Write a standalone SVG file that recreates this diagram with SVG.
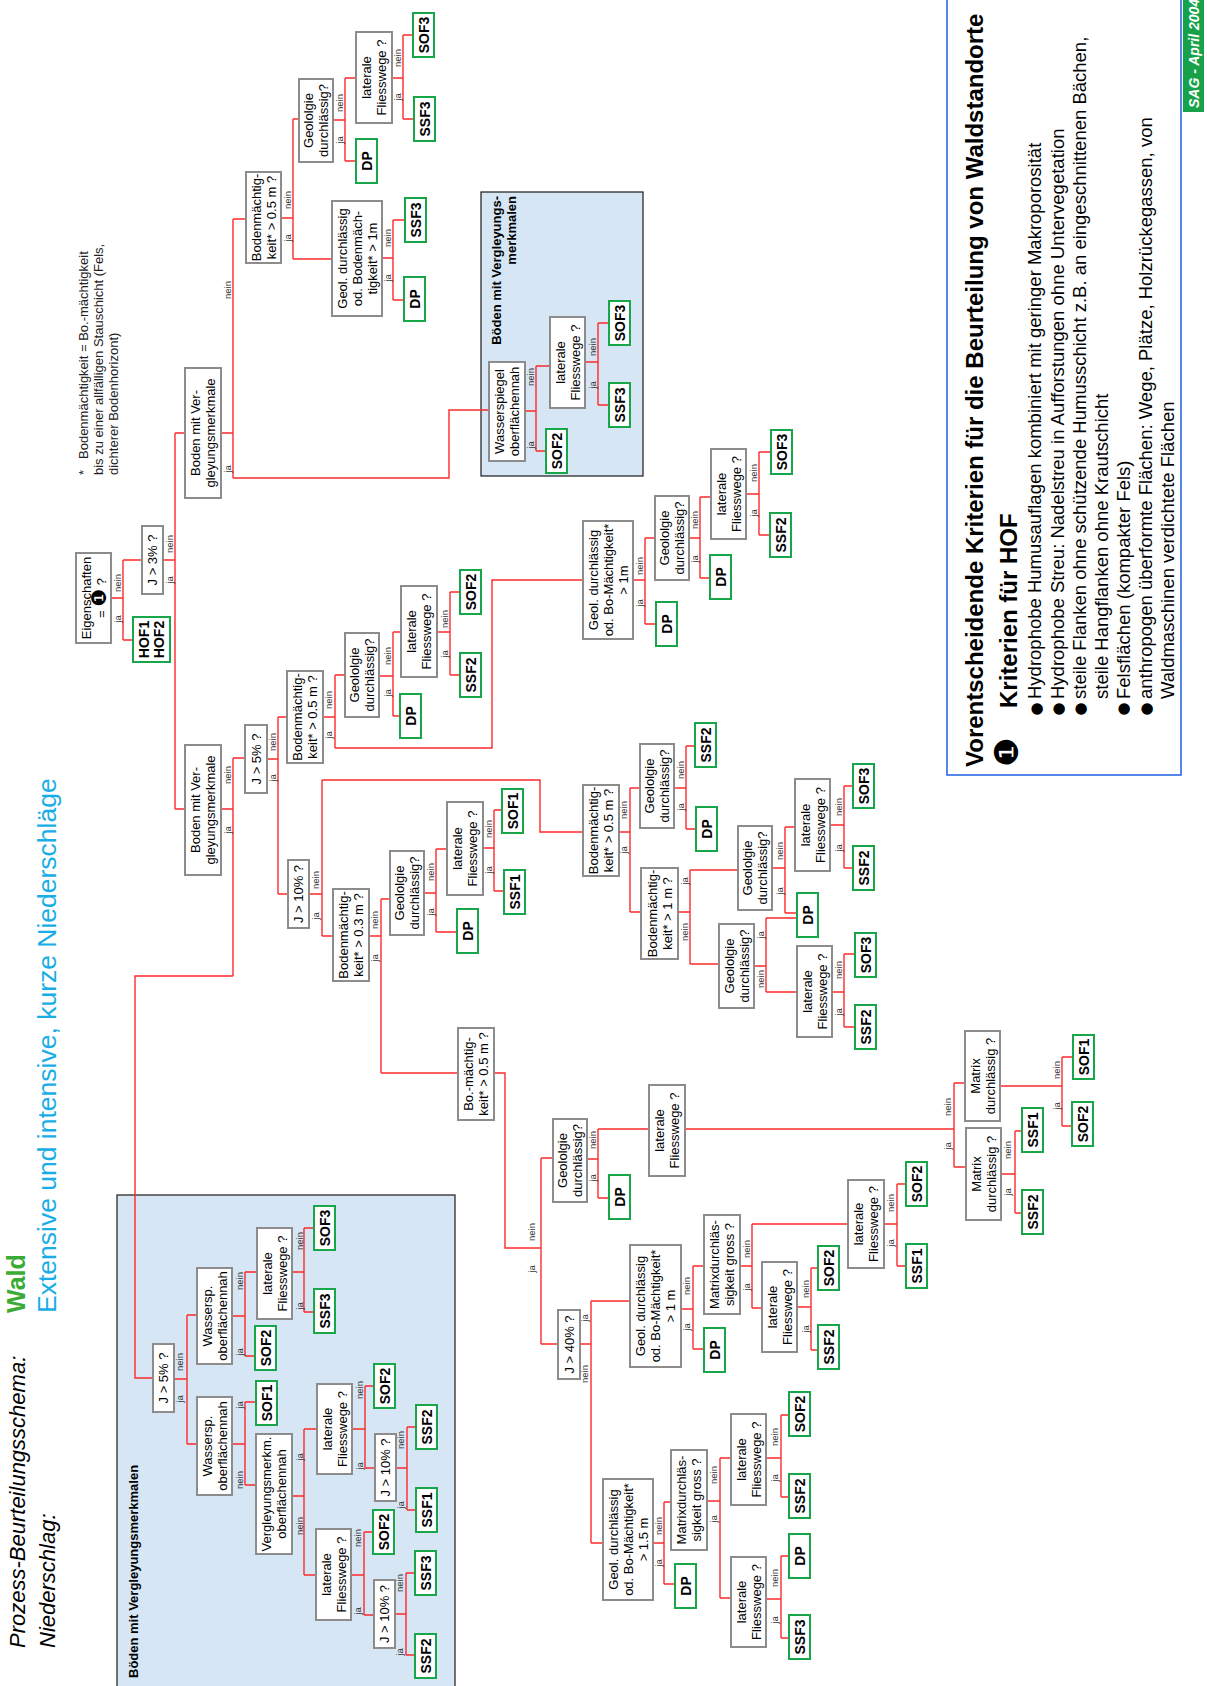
<svg xmlns="http://www.w3.org/2000/svg" width="1207" height="1686" viewBox="0 0 1207 1686">
<style>
.q rect{fill:#fff;stroke:#8c8c8c;stroke-width:2}
.q text{font-family:"Liberation Sans",Arial,"DejaVu Sans",sans-serif;font-size:13px;text-anchor:middle;fill:#000}
.r rect{fill:#fff;stroke:#18a64a;stroke-width:2}
.r text{font-family:"Liberation Sans",Arial,sans-serif;font-size:14px;font-weight:bold;text-anchor:middle;fill:#000}
.c{fill:none;stroke:#ff2a2a;stroke-width:1.4}
.yn text{font-family:"Liberation Sans",Arial,sans-serif;font-size:9.5px;text-anchor:middle;fill:#333}
.blue{fill:#d6e6f4;stroke:#1a1a1a;stroke-width:1.2}
.f{font-family:"Liberation Sans",Arial,"DejaVu Sans",sans-serif}
</style>

<!-- Headers -->
<g id="header">
<text class="f" transform="translate(25,1648) rotate(-90)" font-size="22" font-style="italic">Prozess-Beurteilungsschema:</text>
<text class="f" transform="translate(55,1648) rotate(-90)" font-size="22" font-style="italic">Niederschlag:</text>
<text class="f" transform="translate(25,1313) rotate(-90)" font-size="25" font-weight="bold" fill="#3aab34">Wald</text>
<text class="f" transform="translate(56,1313) rotate(-90)" font-size="26.5" fill="#18ade6">Extensive und intensive, kurze Niederschläge</text>
</g>

<g id="footnote" class="f" font-size="13" fill="#222">
<text transform="translate(88,475) rotate(-90)">*</text>
<text transform="translate(88,459) rotate(-90)">Bodenmächtigkeit = Bo.-mächtigkeit</text>
<text transform="translate(103,475) rotate(-90)">bis zu einer allfälligen Stauschicht (Fels,</text>
<text transform="translate(118,475) rotate(-90)">dichterer Bodenhorizont)</text>
</g>

<!-- Right info box -->
<g id="kriterien">
<rect x="947" y="-2" width="234" height="777" fill="#fff" stroke="#1f5fe0" stroke-width="1.5"/>
<text class="f" transform="translate(983,767) rotate(-90)" font-size="24" font-weight="bold">Vorentscheidende Kriterien für die Beurteilung von Waldstandorte</text>
<text transform="translate(1006,752) rotate(-90)" font-family="DejaVu Sans,sans-serif" font-size="33" text-anchor="middle" y="11.8">❶</text>
<text class="f" transform="translate(1017,708) rotate(-90)" font-size="24" font-weight="bold">Kriterien für HOF</text>
<g font-family="DejaVu Sans,sans-serif" font-size="15" text-anchor="middle">
<text transform="translate(1036,709) rotate(-90)" y="5">●</text>
<text transform="translate(1058,709) rotate(-90)" y="5">●</text>
<text transform="translate(1080,709) rotate(-90)" y="5">●</text>
<text transform="translate(1123,709) rotate(-90)" y="5">●</text>
<text transform="translate(1146,709) rotate(-90)" y="5">●</text>
</g>
<g class="f" font-size="18.5">
<text transform="translate(1041,699) rotate(-90)">Hydrophobe Humusauflagen kombiniert mit geringer Makroporosität</text>
<text transform="translate(1064,699) rotate(-90)">Hydrophobe Streu: Nadelstreu in Aufforstungen ohne Untervegetation</text>
<text transform="translate(1086,699) rotate(-90)">steile Flanken ohne schützende Humusschicht z.B. an eingeschnittenen Bächen,</text>
<text transform="translate(1108,699) rotate(-90)">steile Hangflanken ohne Krautschicht</text>
<text transform="translate(1130,699) rotate(-90)">Felsflächen (kompakter Fels)</text>
<text transform="translate(1152,699) rotate(-90)">anthropogen überformte Flächen: Wege, Plätze, Holzrückegassen, von</text>
<text transform="translate(1174,699) rotate(-90)">Waldmaschinen verdichtete Flächen</text>
</g>
</g>

<g id="sag">
<rect x="1183" y="-2" width="21" height="114" fill="#17a24a"/>
<text class="f" transform="translate(1199,108) rotate(-90)" font-size="14" font-weight="bold" font-style="italic" fill="#fff">SAG - April 2004</text>
</g>

<!-- Blue group boxes -->
<g id="blueUpper">
<rect class="blue" x="481" y="192" width="162" height="284"/>
<text class="f" transform="translate(501,196) rotate(-90)" font-size="13" font-weight="bold" text-anchor="end">Böden mit Vergleyungs-</text>
<text class="f" transform="translate(516,196) rotate(-90)" font-size="13" font-weight="bold" text-anchor="end">merkmalen</text>
</g>
<g id="blueLower">
<rect class="blue" x="117" y="1195" width="338" height="500"/>
<text class="f" transform="translate(138,1678) rotate(-90)" font-size="13" font-weight="bold">Böden mit Vergleyungsmerkmalen</text>
</g>

<!-- Connectors -->
<g id="connectors">
<path class="c" d="M111 598H123M123 560V640M123 560H142M123 640H133"/>
<path class="c" d="M163 560H175M175 433V809M175 433H185M175 809H185"/>
<path class="c" d="M221 433H233M233 219V478M233 219H246M233 478H449V410H489"/>
<path class="c" d="M281 218H293M293 119V259M293 119H299M293 259H332"/>
<path class="c" d="M333 120H345M345 78V161M345 78H356M345 161H356"/>
<path class="c" d="M392 78H403M403 35V119M403 35H413M403 119H414"/>
<path class="c" d="M382 258H393M393 220V300M393 220H405M393 300H404"/>
<path class="c" d="M525 411H536M536 366V451M536 366H550M536 451H546"/>
<path class="c" d="M585 362H598M598 323V405M598 323H609M598 405H609"/>
<path class="c" d="M221 809H233M233 758V976M233 758H245M233 976H135V1378H153"/>
<path class="c" d="M267 759H278M278 717V894M278 717H287M278 894H288"/>
<path class="c" d="M323 717H335M335 675V748M335 675H345M335 748H492V580H583"/>
<path class="c" d="M379 676H393M393 632V716M393 632H401M393 716H400"/>
<path class="c" d="M437 632H450M450 592V675M450 592H460M450 675H460"/>
<path class="c" d="M633 580H645M645 538V624M645 538H655M645 624H656"/>
<path class="c" d="M689 538H700M700 497V578M700 497H711M700 578H710"/>
<path class="c" d="M746 494H759M759 452V535M759 452H771M759 535H770"/>
<path class="c" d="M309 894H322M322 780V936M322 780H540V832H583M322 936H333"/>
<path class="c" d="M369 936H381M381 899V1073M381 899H390M381 1073H458"/>
<path class="c" d="M424 893H436M436 849V932M436 849H447M436 932H457"/>
<path class="c" d="M483 848H494M494 810V891M494 810H502M494 891H504"/>
<path class="c" d="M619 832H630M630 788V912M630 788H640M630 912H641"/>
<path class="c" d="M674 788H686M686 746V829M686 746H695M686 829H696"/>
<path class="c" d="M678 912H690M690 870V964M690 870H738M690 964H719"/>
<path class="c" d="M772 868H785M785 827V913M785 827H795M785 913H797"/>
<path class="c" d="M754 966H766M766 918V992M766 918H797M766 992H797"/>
<path class="c" d="M830 825H844M844 786V868M844 786H853M844 868H853"/>
<path class="c" d="M832 992H844M844 954V1027M844 954H855M844 1027H855"/>
<path class="c" d="M494 1073H505V1248H541M541 1158V1344M541 1158H553M541 1344H558"/>
<path class="c" d="M587 1159H598M598 1129V1198M598 1129H649M598 1198H609"/>
<path class="c" d="M685 1129H954M954 1083V1167M954 1083H965M954 1167H966"/>
<path class="c" d="M1000 1086H1062M1062 1057V1126M1062 1057H1073M1062 1126H1072"/>
<path class="c" d="M1001 1174H1015M1015 1131V1213M1015 1131H1022M1015 1213H1022"/>
<path class="c" d="M580 1344H591M591 1301V1543M591 1301H630M591 1543H603"/>
<path class="c" d="M681 1309H693M693 1266V1349M693 1266H704M693 1349H704"/>
<path class="c" d="M740 1266H752M752 1224V1308M752 1224H848M752 1308H762"/>
<path class="c" d="M884 1224H897M897 1184V1266M897 1184H906M897 1266H906"/>
<path class="c" d="M797 1307H811M811 1268V1350M811 1268H818M811 1350H818"/>
<path class="c" d="M653 1543H664M664 1502V1584M664 1502H671M664 1584H675"/>
<path class="c" d="M707 1501H720M720 1458V1598M720 1458H731M720 1598H731"/>
<path class="c" d="M766 1458H781M781 1415V1497M781 1415H789M781 1497H789"/>
<path class="c" d="M766 1599H781M781 1556V1638M781 1556H789M781 1638H789"/>
<path class="c" d="M174 1379H187M187 1315V1444M187 1315H197M187 1444H197"/>
<path class="c" d="M232 1316H245M245 1272V1356M245 1272H257M245 1356H255"/>
<path class="c" d="M292 1272H304M304 1228V1312M304 1228H314M304 1312H314"/>
<path class="c" d="M232 1444H245M245 1402V1485M245 1402H256M245 1485H256"/>
<path class="c" d="M292 1496H304M304 1429V1575M304 1429H317M304 1575H316"/>
<path class="c" d="M352 1429H365M365 1386V1468M365 1386H374M365 1468H375"/>
<path class="c" d="M351 1575H364M364 1532V1615M364 1532H373M364 1615H374"/>
<path class="c" d="M396 1468H407M407 1427V1510M407 1427H416M407 1510H416"/>
<path class="c" d="M395 1614H406M406 1573V1655M406 1573H415M406 1655H415"/>
<g class="yn">
<text transform="translate(228,290) rotate(-90)" y="3">nein</text><text transform="translate(228,469) rotate(-90)" y="3">ja</text>
<text transform="translate(288,200) rotate(-90)" y="3">nein</text><text transform="translate(288,238) rotate(-90)" y="3">ja</text>
<text transform="translate(340,103) rotate(-90)" y="3">nein</text><text transform="translate(340,140) rotate(-90)" y="3">ja</text>
<text transform="translate(398,58) rotate(-90)" y="3">nein</text><text transform="translate(398,97) rotate(-90)" y="3">ja</text>
<text transform="translate(388,238) rotate(-90)" y="3">nein</text><text transform="translate(388,278) rotate(-90)" y="3">ja</text>
<text transform="translate(531,377) rotate(-90)" y="3">nein</text><text transform="translate(531,445) rotate(-90)" y="3">ja</text>
<text transform="translate(593,347) rotate(-90)" y="3">nein</text><text transform="translate(593,385) rotate(-90)" y="3">ja</text>
<text transform="translate(118,583) rotate(-90)" y="3">nein</text><text transform="translate(118,619) rotate(-90)" y="3">ja</text>
<text transform="translate(170,544) rotate(-90)" y="3">nein</text><text transform="translate(170,580) rotate(-90)" y="3">ja</text>
<text transform="translate(228,775) rotate(-90)" y="3">nein</text><text transform="translate(228,830) rotate(-90)" y="3">ja</text>
<text transform="translate(273,742) rotate(-90)" y="3">nein</text><text transform="translate(273,778) rotate(-90)" y="3">ja</text>
<text transform="translate(329,700) rotate(-90)" y="3">nein</text><text transform="translate(329,735) rotate(-90)" y="3">ja</text>
<text transform="translate(388,656) rotate(-90)" y="3">nein</text><text transform="translate(388,693) rotate(-90)" y="3">ja</text>
<text transform="translate(445,619) rotate(-90)" y="3">nein</text><text transform="translate(445,654) rotate(-90)" y="3">ja</text>
<text transform="translate(640,566) rotate(-90)" y="3">nein</text><text transform="translate(640,603) rotate(-90)" y="3">ja</text>
<text transform="translate(695,520) rotate(-90)" y="3">nein</text><text transform="translate(695,559) rotate(-90)" y="3">ja</text>
<text transform="translate(754,473) rotate(-90)" y="3">nein</text><text transform="translate(754,513) rotate(-90)" y="3">ja</text>
<text transform="translate(316,880) rotate(-90)" y="3">nein</text><text transform="translate(316,916) rotate(-90)" y="3">ja</text>
<text transform="translate(375,920) rotate(-90)" y="3">nein</text><text transform="translate(375,958) rotate(-90)" y="3">ja</text>
<text transform="translate(431,872) rotate(-90)" y="3">nein</text><text transform="translate(431,912) rotate(-90)" y="3">ja</text>
<text transform="translate(489,829) rotate(-90)" y="3">nein</text><text transform="translate(489,870) rotate(-90)" y="3">ja</text>
<text transform="translate(624,810) rotate(-90)" y="3">nein</text><text transform="translate(624,850) rotate(-90)" y="3">ja</text>
<text transform="translate(681,770) rotate(-90)" y="3">nein</text><text transform="translate(681,807) rotate(-90)" y="3">ja</text>
<text transform="translate(685,881) rotate(-90)" y="3">ja</text><text transform="translate(685,932) rotate(-90)" y="3">nein</text>
<text transform="translate(780,851) rotate(-90)" y="3">nein</text><text transform="translate(780,891) rotate(-90)" y="3">ja</text>
<text transform="translate(761,935) rotate(-90)" y="3">ja</text><text transform="translate(761,979) rotate(-90)" y="3">nein</text>
<text transform="translate(839,807) rotate(-90)" y="3">nein</text><text transform="translate(839,848) rotate(-90)" y="3">ja</text>
<text transform="translate(839,970) rotate(-90)" y="3">nein</text><text transform="translate(839,1012) rotate(-90)" y="3">ja</text>
<text transform="translate(532,1232) rotate(-90)" y="3">nein</text><text transform="translate(532,1269) rotate(-90)" y="3">ja</text>
<text transform="translate(593,1140) rotate(-90)" y="3">nein</text><text transform="translate(593,1178) rotate(-90)" y="3">ja</text>
<text transform="translate(948,1107) rotate(-90)" y="3">nein</text><text transform="translate(948,1146) rotate(-90)" y="3">ja</text>
<text transform="translate(1057,1070) rotate(-90)" y="3">nein</text><text transform="translate(1057,1106) rotate(-90)" y="3">ja</text>
<text transform="translate(1008,1150) rotate(-90)" y="3">nein</text><text transform="translate(1008,1192) rotate(-90)" y="3">ja</text>
<text transform="translate(585,1318) rotate(-90)" y="3">ja</text><text transform="translate(585,1374) rotate(-90)" y="3">nein</text>
<text transform="translate(687,1286) rotate(-90)" y="3">nein</text><text transform="translate(687,1327) rotate(-90)" y="3">ja</text>
<text transform="translate(747,1249) rotate(-90)" y="3">nein</text><text transform="translate(747,1287) rotate(-90)" y="3">ja</text>
<text transform="translate(891,1203) rotate(-90)" y="3">nein</text><text transform="translate(891,1243) rotate(-90)" y="3">ja</text>
<text transform="translate(806,1289) rotate(-90)" y="3">nein</text><text transform="translate(806,1329) rotate(-90)" y="3">ja</text>
<text transform="translate(659,1526) rotate(-90)" y="3">nein</text><text transform="translate(659,1563) rotate(-90)" y="3">ja</text>
<text transform="translate(714,1475) rotate(-90)" y="3">nein</text><text transform="translate(714,1519) rotate(-90)" y="3">ja</text>
<text transform="translate(775,1437) rotate(-90)" y="3">nein</text><text transform="translate(775,1478) rotate(-90)" y="3">ja</text>
<text transform="translate(775,1578) rotate(-90)" y="3">nein</text><text transform="translate(775,1620) rotate(-90)" y="3">ja</text>
<text transform="translate(180,1362) rotate(-90)" y="3">nein</text><text transform="translate(180,1399) rotate(-90)" y="3">ja</text>
<text transform="translate(240,1281) rotate(-90)" y="3">nein</text><text transform="translate(240,1352) rotate(-90)" y="3">ja</text>
<text transform="translate(300,1241) rotate(-90)" y="3">nein</text><text transform="translate(300,1306) rotate(-90)" y="3">ja</text>
<text transform="translate(240,1405) rotate(-90)" y="3">ja</text><text transform="translate(240,1480) rotate(-90)" y="3">nein</text>
<text transform="translate(300,1457) rotate(-90)" y="3">ja</text><text transform="translate(300,1526) rotate(-90)" y="3">nein</text>
<text transform="translate(360,1390) rotate(-90)" y="3">nein</text><text transform="translate(360,1466) rotate(-90)" y="3">ja</text>
<text transform="translate(358,1538) rotate(-90)" y="3">nein</text><text transform="translate(358,1611) rotate(-90)" y="3">ja</text>
<text transform="translate(401,1440) rotate(-90)" y="3">nein</text><text transform="translate(401,1505) rotate(-90)" y="3">ja</text>
<text transform="translate(400,1583) rotate(-90)" y="3">nein</text><text transform="translate(400,1652) rotate(-90)" y="3">ja</text>
</g>
</g>

<!-- Question nodes -->
<g id="G1" class="q"><rect x="76" y="553" width="35" height="90"/><text transform="translate(93.5,598) rotate(-90)"><tspan x="0" y="-3">Eigenschaften</tspan><tspan x="0" y="12">= <tspan font-size="20">❶</tspan> ?</tspan></text></g>
<g id="G2" class="q"><rect x="142" y="526" width="21" height="68"/><text transform="translate(152.5,560) rotate(-90)"><tspan x="0" y="4.5">J &gt; 3% ?</tspan></text></g>
<g id="G3" class="q"><rect x="185" y="368" width="36" height="130"/><text transform="translate(203,433) rotate(-90)"><tspan x="0" y="-3">Boden mit Ver-</tspan><tspan x="0" y="12">gleyungsmerkmale</tspan></text></g>
<g id="G4" class="q"><rect x="185" y="745" width="36" height="130"/><text transform="translate(203,810) rotate(-90)"><tspan x="0" y="-3">Boden mit Ver-</tspan><tspan x="0" y="12">gleyungsmerkmale</tspan></text></g>
<g id="G5" class="q"><rect x="246" y="172" width="35" height="91"/><text transform="translate(263.5,217.5) rotate(-90)"><tspan x="0" y="-3">Bodenmächtig-</tspan><tspan x="0" y="12">keit* &gt; 0.5 m ?</tspan></text></g>
<g id="G6" class="q"><rect x="299" y="79" width="34" height="83"/><text transform="translate(316,120.5) rotate(-90)"><tspan x="0" y="-3">Geololgie</tspan><tspan x="0" y="12">durchlässig?</tspan></text></g>
<g id="G7" class="q"><rect x="356" y="32" width="36" height="91"/><text transform="translate(374,77.5) rotate(-90)"><tspan x="0" y="-3">laterale</tspan><tspan x="0" y="12">Fliesswege ?</tspan></text></g>
<g id="G8" class="q"><rect x="332" y="201" width="50" height="115"/><text transform="translate(357,258.5) rotate(-90)"><tspan x="0" y="-10.5">Geol. durchlässig</tspan><tspan x="0" y="4.5">od. Bodenmäch-</tspan><tspan x="0" y="19.5">tigkeit* &gt; 1m</tspan></text></g>
<g id="G9" class="q"><rect x="489" y="362" width="36" height="99"/><text transform="translate(507,411.5) rotate(-90)"><tspan x="0" y="-3">Wasserspiegel</tspan><tspan x="0" y="12">oberflächennah</tspan></text></g>
<g id="G10" class="q"><rect x="550" y="317" width="35" height="91"/><text transform="translate(567.5,362.5) rotate(-90)"><tspan x="0" y="-3">laterale</tspan><tspan x="0" y="12">Fliesswege ?</tspan></text></g>
<g id="G11" class="q"><rect x="245" y="725" width="22" height="68"/><text transform="translate(256,759) rotate(-90)"><tspan x="0" y="4.5">J &gt; 5% ?</tspan></text></g>
<g id="G12" class="q"><rect x="287" y="671" width="36" height="92"/><text transform="translate(305,717) rotate(-90)"><tspan x="0" y="-3">Bodenmächtig-</tspan><tspan x="0" y="12">keit* &gt; 0.5 m ?</tspan></text></g>
<g id="G13" class="q"><rect x="345" y="633" width="34" height="84"/><text transform="translate(362,675) rotate(-90)"><tspan x="0" y="-3">Geololgie</tspan><tspan x="0" y="12">durchlässig?</tspan></text></g>
<g id="G14" class="q"><rect x="401" y="586" width="36" height="91"/><text transform="translate(419,631.5) rotate(-90)"><tspan x="0" y="-3">laterale</tspan><tspan x="0" y="12">Fliesswege ?</tspan></text></g>
<g id="G15" class="q"><rect x="583" y="521" width="50" height="118"/><text transform="translate(608,580) rotate(-90)"><tspan x="0" y="-10.5">Geol. durchlässig</tspan><tspan x="0" y="4.5">od. Bo-Mächtigkeit*</tspan><tspan x="0" y="19.5">&gt; 1m</tspan></text></g>
<g id="G16" class="q"><rect x="655" y="496" width="34" height="84"/><text transform="translate(672,538) rotate(-90)"><tspan x="0" y="-3">Geololgie</tspan><tspan x="0" y="12">durchlässig?</tspan></text></g>
<g id="G17" class="q"><rect x="711" y="449" width="35" height="90"/><text transform="translate(728.5,494) rotate(-90)"><tspan x="0" y="-3">laterale</tspan><tspan x="0" y="12">Fliesswege ?</tspan></text></g>
<g id="G18" class="q"><rect x="288" y="860" width="21" height="68"/><text transform="translate(298.5,894) rotate(-90)"><tspan x="0" y="4.5">J &gt; 10% ?</tspan></text></g>
<g id="G19" class="q"><rect x="333" y="889" width="36" height="92"/><text transform="translate(351,935) rotate(-90)"><tspan x="0" y="-3">Bodenmächtig-</tspan><tspan x="0" y="12">keit* &gt; 0.3 m ?</tspan></text></g>
<g id="G20" class="q"><rect x="390" y="851" width="34" height="84"/><text transform="translate(407,893) rotate(-90)"><tspan x="0" y="-3">Geololgie</tspan><tspan x="0" y="12">durchlässig?</tspan></text></g>
<g id="G21" class="q"><rect x="447" y="802" width="36" height="93"/><text transform="translate(465,848.5) rotate(-90)"><tspan x="0" y="-3">laterale</tspan><tspan x="0" y="12">Fliesswege ?</tspan></text></g>
<g id="G22" class="q"><rect x="583" y="785" width="36" height="91"/><text transform="translate(601,830.5) rotate(-90)"><tspan x="0" y="-3">Bodenmächtig-</tspan><tspan x="0" y="12">keit* &gt; 0.5 m ?</tspan></text></g>
<g id="G23" class="q"><rect x="640" y="744" width="34" height="84"/><text transform="translate(657,786) rotate(-90)"><tspan x="0" y="-3">Geololgie</tspan><tspan x="0" y="12">durchlässig?</tspan></text></g>
<g id="G24" class="q"><rect x="641" y="868" width="37" height="91"/><text transform="translate(659.5,913.5) rotate(-90)"><tspan x="0" y="-3">Bodenmächtig-</tspan><tspan x="0" y="12">keit* &gt; 1 m ?</tspan></text></g>
<g id="G25" class="q"><rect x="738" y="826" width="34" height="84"/><text transform="translate(755,868) rotate(-90)"><tspan x="0" y="-3">Geololgie</tspan><tspan x="0" y="12">durchlässig?</tspan></text></g>
<g id="G26" class="q"><rect x="719" y="924" width="35" height="84"/><text transform="translate(736.5,966) rotate(-90)"><tspan x="0" y="-3">Geololgie</tspan><tspan x="0" y="12">durchlässig?</tspan></text></g>
<g id="G27" class="q"><rect x="795" y="779" width="35" height="92"/><text transform="translate(812.5,825) rotate(-90)"><tspan x="0" y="-3">laterale</tspan><tspan x="0" y="12">Fliesswege ?</tspan></text></g>
<g id="G28" class="q"><rect x="797" y="946" width="35" height="91"/><text transform="translate(814.5,991.5) rotate(-90)"><tspan x="0" y="-3">laterale</tspan><tspan x="0" y="12">Fliesswege ?</tspan></text></g>
<g id="G29" class="q"><rect x="458" y="1028" width="36" height="92"/><text transform="translate(476,1074) rotate(-90)"><tspan x="0" y="-3">Bo.-mächtig-</tspan><tspan x="0" y="12">keit* &gt; 0.5 m ?</tspan></text></g>
<g id="G30" class="q"><rect x="553" y="1119" width="34" height="83"/><text transform="translate(570,1160.5) rotate(-90)"><tspan x="0" y="-3">Geololgie</tspan><tspan x="0" y="12">durchlässig?</tspan></text></g>
<g id="G31" class="q"><rect x="649" y="1085" width="36" height="91"/><text transform="translate(667,1130.5) rotate(-90)"><tspan x="0" y="-3">laterale</tspan><tspan x="0" y="12">Fliesswege ?</tspan></text></g>
<g id="G32" class="q"><rect x="965" y="1031" width="35" height="90"/><text transform="translate(982.5,1076) rotate(-90)"><tspan x="0" y="-3">Matrix</tspan><tspan x="0" y="12">durchlässig ?</tspan></text></g>
<g id="G33" class="q"><rect x="966" y="1128" width="35" height="92"/><text transform="translate(983.5,1174) rotate(-90)"><tspan x="0" y="-3">Matrix</tspan><tspan x="0" y="12">durchlässig ?</tspan></text></g>
<g id="G34" class="q"><rect x="558" y="1310" width="22" height="69"/><text transform="translate(569,1344.5) rotate(-90)"><tspan x="0" y="4.5">J &gt; 40% ?</tspan></text></g>
<g id="G35" class="q"><rect x="630" y="1245" width="51" height="122"/><text transform="translate(655.5,1306) rotate(-90)"><tspan x="0" y="-10.5">Geol. durchlässig</tspan><tspan x="0" y="4.5">od. Bo-Mächtigkeit*</tspan><tspan x="0" y="19.5">&gt; 1 m</tspan></text></g>
<g id="G36" class="q"><rect x="704" y="1215" width="36" height="99"/><text transform="translate(722,1264.5) rotate(-90)"><tspan x="0" y="-3">Matrixdurchläs-</tspan><tspan x="0" y="12">sigkeit gross ?</tspan></text></g>
<g id="G37" class="q"><rect x="848" y="1180" width="36" height="88"/><text transform="translate(866,1224) rotate(-90)"><tspan x="0" y="-3">laterale</tspan><tspan x="0" y="12">Fliesswege ?</tspan></text></g>
<g id="G38" class="q"><rect x="762" y="1262" width="35" height="90"/><text transform="translate(779.5,1307) rotate(-90)"><tspan x="0" y="-3">laterale</tspan><tspan x="0" y="12">Fliesswege ?</tspan></text></g>
<g id="G39" class="q"><rect x="603" y="1479" width="50" height="121"/><text transform="translate(628,1539.5) rotate(-90)"><tspan x="0" y="-10.5">Geol. durchlässig</tspan><tspan x="0" y="4.5">od. Bo-Mächtigkeit*</tspan><tspan x="0" y="19.5">&gt; 1.5 m</tspan></text></g>
<g id="G40" class="q"><rect x="671" y="1450" width="36" height="100"/><text transform="translate(689,1500) rotate(-90)"><tspan x="0" y="-3">Matrixdurchläs-</tspan><tspan x="0" y="12">sigkeit gross ?</tspan></text></g>
<g id="G41" class="q"><rect x="731" y="1414" width="35" height="91"/><text transform="translate(748.5,1459.5) rotate(-90)"><tspan x="0" y="-3">laterale</tspan><tspan x="0" y="12">Fliesswege ?</tspan></text></g>
<g id="G42" class="q"><rect x="731" y="1557" width="35" height="90"/><text transform="translate(748.5,1602) rotate(-90)"><tspan x="0" y="-3">laterale</tspan><tspan x="0" y="12">Fliesswege ?</tspan></text></g>
<g id="G43" class="q"><rect x="153" y="1344" width="21" height="68"/><text transform="translate(163.5,1378) rotate(-90)"><tspan x="0" y="4.5">J &gt; 5% ?</tspan></text></g>
<g id="G44" class="q"><rect x="197" y="1268" width="35" height="96"/><text transform="translate(214.5,1316) rotate(-90)"><tspan x="0" y="-3">Wassersp.</tspan><tspan x="0" y="12">oberflächennah</tspan></text></g>
<g id="G45" class="q"><rect x="197" y="1397" width="35" height="98"/><text transform="translate(214.5,1446) rotate(-90)"><tspan x="0" y="-3">Wassersp.</tspan><tspan x="0" y="12">oberflächennah</tspan></text></g>
<g id="G46" class="q"><rect x="257" y="1228" width="35" height="91"/><text transform="translate(274.5,1273.5) rotate(-90)"><tspan x="0" y="-3">laterale</tspan><tspan x="0" y="12">Fliesswege ?</tspan></text></g>
<g id="G47" class="q"><rect x="256" y="1434" width="36" height="120"/><text transform="translate(274,1494) rotate(-90)"><tspan x="0" y="-3">Vergleyungsmerkm.</tspan><tspan x="0" y="12">oberflächennah</tspan></text></g>
<g id="G48" class="q"><rect x="317" y="1384" width="35" height="90"/><text transform="translate(334.5,1429) rotate(-90)"><tspan x="0" y="-3">laterale</tspan><tspan x="0" y="12">Fliesswege ?</tspan></text></g>
<g id="G49" class="q"><rect x="316" y="1529" width="35" height="91"/><text transform="translate(333.5,1574.5) rotate(-90)"><tspan x="0" y="-3">laterale</tspan><tspan x="0" y="12">Fliesswege ?</tspan></text></g>
<g id="G50" class="q"><rect x="375" y="1434" width="21" height="67"/><text transform="translate(385.5,1467.5) rotate(-90)"><tspan x="0" y="4.5">J &gt; 10% ?</tspan></text></g>
<g id="G51" class="q"><rect x="374" y="1580" width="21" height="68"/><text transform="translate(384.5,1614) rotate(-90)"><tspan x="0" y="4.5">J &gt; 10% ?</tspan></text></g>

<!-- Result nodes -->
<g id="T1" class="r"><rect x="133" y="617" width="37" height="45"/><text transform="translate(151.5,639.5) rotate(-90)"><tspan x="0" y="-2.5">HOF1</tspan><tspan x="0" y="12.5">HOF2</tspan></text></g>
<g id="T2" class="r"><rect x="356" y="139" width="21" height="44"/><text transform="translate(366.5,161) rotate(-90)" y="5">DP</text></g>
<g id="T3" class="r"><rect x="413" y="13" width="21" height="44"/><text transform="translate(423.5,35) rotate(-90)" y="5">SOF3</text></g>
<g id="T4" class="r"><rect x="414" y="97" width="21" height="44"/><text transform="translate(424.5,119) rotate(-90)" y="5">SSF3</text></g>
<g id="T5" class="r"><rect x="405" y="198" width="21" height="44"/><text transform="translate(415.5,220) rotate(-90)" y="5">SSF3</text></g>
<g id="T6" class="r"><rect x="404" y="277" width="21" height="44"/><text transform="translate(414.5,299) rotate(-90)" y="5">DP</text></g>
<g id="T7" class="r"><rect x="609" y="301" width="21" height="44"/><text transform="translate(619.5,323) rotate(-90)" y="5">SOF3</text></g>
<g id="T8" class="r"><rect x="609" y="383" width="21" height="44"/><text transform="translate(619.5,405) rotate(-90)" y="5">SSF3</text></g>
<g id="T9" class="r"><rect x="546" y="429" width="21" height="44"/><text transform="translate(556.5,451) rotate(-90)" y="5">SOF2</text></g>
<g id="T10" class="r"><rect x="460" y="570" width="21" height="44"/><text transform="translate(470.5,592) rotate(-90)" y="5">SOF2</text></g>
<g id="T11" class="r"><rect x="460" y="653" width="21" height="44"/><text transform="translate(470.5,675) rotate(-90)" y="5">SSF2</text></g>
<g id="T12" class="r"><rect x="400" y="694" width="21" height="44"/><text transform="translate(410.5,716) rotate(-90)" y="5">DP</text></g>
<g id="T13" class="r"><rect x="656" y="602" width="21" height="44"/><text transform="translate(666.5,624) rotate(-90)" y="5">DP</text></g>
<g id="T14" class="r"><rect x="710" y="555" width="21" height="44"/><text transform="translate(720.5,577) rotate(-90)" y="5">DP</text></g>
<g id="T15" class="r"><rect x="771" y="430" width="21" height="44"/><text transform="translate(781.5,452) rotate(-90)" y="5">SOF3</text></g>
<g id="T16" class="r"><rect x="770" y="513" width="21" height="44"/><text transform="translate(780.5,535) rotate(-90)" y="5">SSF2</text></g>
<g id="T17" class="r"><rect x="457" y="909" width="21" height="44"/><text transform="translate(467.5,931) rotate(-90)" y="5">DP</text></g>
<g id="T18" class="r"><rect x="502" y="789" width="21" height="44"/><text transform="translate(512.5,811) rotate(-90)" y="5">SOF1</text></g>
<g id="T19" class="r"><rect x="504" y="870" width="21" height="44"/><text transform="translate(514.5,892) rotate(-90)" y="5">SSF1</text></g>
<g id="T20" class="r"><rect x="695" y="723" width="21" height="44"/><text transform="translate(705.5,745) rotate(-90)" y="5">SSF2</text></g>
<g id="T21" class="r"><rect x="696" y="807" width="21" height="44"/><text transform="translate(706.5,829) rotate(-90)" y="5">DP</text></g>
<g id="T22" class="r"><rect x="797" y="893" width="21" height="44"/><text transform="translate(807.5,915) rotate(-90)" y="5">DP</text></g>
<g id="T23" class="r"><rect x="853" y="764" width="21" height="44"/><text transform="translate(863.5,786) rotate(-90)" y="5">SOF3</text></g>
<g id="T24" class="r"><rect x="853" y="846" width="21" height="44"/><text transform="translate(863.5,868) rotate(-90)" y="5">SSF2</text></g>
<g id="T25" class="r"><rect x="855" y="933" width="21" height="44"/><text transform="translate(865.5,955) rotate(-90)" y="5">SOF3</text></g>
<g id="T26" class="r"><rect x="855" y="1005" width="21" height="44"/><text transform="translate(865.5,1027) rotate(-90)" y="5">SSF2</text></g>
<g id="T27" class="r"><rect x="609" y="1175" width="21" height="44"/><text transform="translate(619.5,1197) rotate(-90)" y="5">DP</text></g>
<g id="T28" class="r"><rect x="1073" y="1035" width="21" height="44"/><text transform="translate(1083.5,1057) rotate(-90)" y="5">SOF1</text></g>
<g id="T29" class="r"><rect x="1072" y="1102" width="21" height="44"/><text transform="translate(1082.5,1124) rotate(-90)" y="5">SOF2</text></g>
<g id="T30" class="r"><rect x="1022" y="1108" width="21" height="44"/><text transform="translate(1032.5,1130) rotate(-90)" y="5">SSF1</text></g>
<g id="T31" class="r"><rect x="1022" y="1190" width="21" height="44"/><text transform="translate(1032.5,1212) rotate(-90)" y="5">SSF2</text></g>
<g id="T32" class="r"><rect x="704" y="1328" width="21" height="44"/><text transform="translate(714.5,1350) rotate(-90)" y="5">DP</text></g>
<g id="T33" class="r"><rect x="906" y="1162" width="21" height="44"/><text transform="translate(916.5,1184) rotate(-90)" y="5">SOF2</text></g>
<g id="T34" class="r"><rect x="906" y="1244" width="21" height="44"/><text transform="translate(916.5,1266) rotate(-90)" y="5">SSF1</text></g>
<g id="T35" class="r"><rect x="818" y="1246" width="21" height="44"/><text transform="translate(828.5,1268) rotate(-90)" y="5">SOF2</text></g>
<g id="T36" class="r"><rect x="818" y="1325" width="21" height="44"/><text transform="translate(828.5,1347) rotate(-90)" y="5">SSF2</text></g>
<g id="T37" class="r"><rect x="675" y="1564" width="21" height="44"/><text transform="translate(685.5,1586) rotate(-90)" y="5">DP</text></g>
<g id="T38" class="r"><rect x="789" y="1392" width="21" height="44"/><text transform="translate(799.5,1414) rotate(-90)" y="5">SOF2</text></g>
<g id="T39" class="r"><rect x="789" y="1474" width="21" height="44"/><text transform="translate(799.5,1496) rotate(-90)" y="5">SSF2</text></g>
<g id="T40" class="r"><rect x="789" y="1534" width="21" height="44"/><text transform="translate(799.5,1556) rotate(-90)" y="5">DP</text></g>
<g id="T41" class="r"><rect x="789" y="1615" width="21" height="44"/><text transform="translate(799.5,1637) rotate(-90)" y="5">SSF3</text></g>
<g id="T42" class="r"><rect x="255" y="1326" width="21" height="44"/><text transform="translate(265.5,1348) rotate(-90)" y="5">SOF2</text></g>
<g id="T43" class="r"><rect x="314" y="1206" width="21" height="44"/><text transform="translate(324.5,1228) rotate(-90)" y="5">SOF3</text></g>
<g id="T44" class="r"><rect x="314" y="1289" width="21" height="44"/><text transform="translate(324.5,1311) rotate(-90)" y="5">SSF3</text></g>
<g id="T45" class="r"><rect x="256" y="1381" width="21" height="44"/><text transform="translate(266.5,1403) rotate(-90)" y="5">SOF1</text></g>
<g id="T46" class="r"><rect x="374" y="1364" width="21" height="44"/><text transform="translate(384.5,1386) rotate(-90)" y="5">SOF2</text></g>
<g id="T47" class="r"><rect x="373" y="1510" width="21" height="44"/><text transform="translate(383.5,1532) rotate(-90)" y="5">SOF2</text></g>
<g id="T48" class="r"><rect x="416" y="1405" width="21" height="44"/><text transform="translate(426.5,1427) rotate(-90)" y="5">SSF2</text></g>
<g id="T49" class="r"><rect x="416" y="1488" width="21" height="44"/><text transform="translate(426.5,1510) rotate(-90)" y="5">SSF1</text></g>
<g id="T50" class="r"><rect x="415" y="1551" width="21" height="44"/><text transform="translate(425.5,1573) rotate(-90)" y="5">SSF3</text></g>
<g id="T51" class="r"><rect x="415" y="1634" width="21" height="44"/><text transform="translate(425.5,1656) rotate(-90)" y="5">SSF2</text></g>
</svg>
